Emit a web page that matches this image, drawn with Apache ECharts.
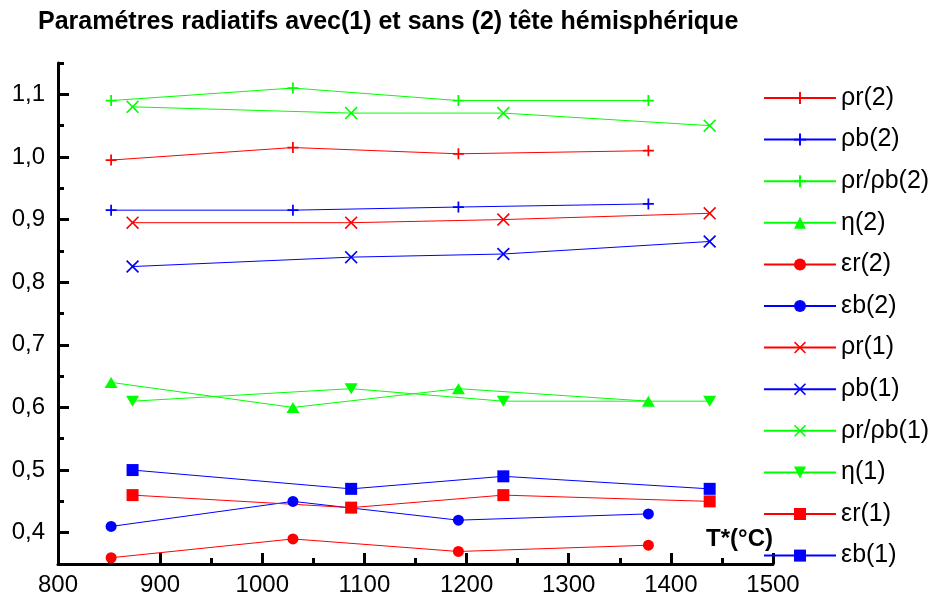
<!DOCTYPE html>
<html>
<head>
<meta charset="utf-8">
<script src="https://cdn.jsdelivr.net/npm/echarts@6/dist/echarts.min.js"></script>
<style>
html,body{margin:0;padding:0;background:#fff;}
#chart{width:939px;height:601px;}
</style>
</head>
<body>
<div id="chart"></div>
<script>
// ---- data ----
const titleText = 'Paramétres radiatifs avec(1) et sans (2) tête hémisphérique';
const xTitle = 'T*(°C)';
const temps2 = [852, 1030, 1192, 1378];
const temps1 = [873, 1087, 1236, 1438];
const rhoR2 = [0.995, 1.015, 1.005, 1.01];
const rhoB2 = [0.915, 0.915, 0.92, 0.925];
const ratio2 = [1.09, 1.11, 1.09, 1.09];
const eta2 = [0.64, 0.60, 0.63, 0.61];
const epsR2 = [0.36, 0.39, 0.37, 0.38];
const epsB2 = [0.41, 0.45, 0.42, 0.43];
const rhoR1 = [0.895, 0.895, 0.90, 0.91];
const rhoB1 = [0.825, 0.84, 0.845, 0.865];
const ratio1 = [1.08, 1.07, 1.07, 1.05];
const eta1 = [0.61, 0.63, 0.61, 0.61];
const epsR1 = [0.46, 0.44, 0.46, 0.45];
const epsB1 = [0.50, 0.47, 0.49, 0.47];
const yTickLabels = [0.4, 0.5, 0.6, 0.7, 0.8, 0.9, 1.0, 1.1];

// ---- styles ----
const RED = '#ff0000', BLUE = '#0000ff', GREEN = '#00ff00';
const PLUS = 'path://M42,0H58V42H100V58H58V100H42V58H0V42H42Z';
const CROSS = 'path://M0,9L9,0L50,41L91,0L100,9L59,50L100,91L91,100L50,59L9,100L0,91L41,50Z';
const TRI_DOWN = 'path://M0,0L100,0L50,87Z';
const FONT = 'Liberation Sans, Arial, sans-serif';

function pairs(xs, ys) { return xs.map((x, i) => [x, ys[i]]); }

const defs = [
  ['ρr(2)', temps2, rhoR2, RED, PLUS, 11],
  ['ρb(2)', temps2, rhoB2, BLUE, PLUS, 11],
  ['ρr/ρb(2)', temps2, ratio2, GREEN, PLUS, 11],
  ['η(2)', temps2, eta2, GREEN, 'triangle', [13, 11]],
  ['εr(2)', temps2, epsR2, RED, 'circle', 11],
  ['εb(2)', temps2, epsB2, BLUE, 'circle', 11],
  ['ρr(1)', temps1, rhoR1, RED, CROSS, 13],
  ['ρb(1)', temps1, rhoB1, BLUE, CROSS, 13],
  ['ρr/ρb(1)', temps1, ratio1, GREEN, CROSS, 13],
  ['η(1)', temps1, eta1, GREEN, TRI_DOWN, [13, 11]],
  ['εr(1)', temps1, epsR1, RED, 'rect', 12],
  ['εb(1)', temps1, epsB1, BLUE, 'rect', 12]
];

const series = defs.map(d => ({
  name: d[0],
  type: 'line',
  xAxisIndex: 0,
  yAxisIndex: 0,
  data: pairs(d[1], d[2]),
  symbol: d[4],
  symbolSize: d[5],
  showSymbol: true,
  color: d[3],
  lineStyle: { color: d[3], width: 1 },
  itemStyle: { color: d[3] },
  emphasis: { disabled: true },
  animation: false
}));

const chart = echarts.init(document.getElementById('chart'), null, { renderer: 'canvas' });
chart.setOption({
  backgroundColor: '#fff',
  animation: false,
  textStyle: { fontFamily: FONT },
  title: {
    text: titleText,
    left: 38,
    top: 10,
    padding: 0,
    textStyle: { fontFamily: FONT, fontSize: 25, fontWeight: 'bold', color: '#000' }
  },
  grid: { left: 58, right: 166, top: 63, bottom: 37, containLabel: false },
  xAxis: [{
    type: 'value',
    min: 800, max: 1500, interval: 100,
    axisLine: { show: true, onZero: false, lineStyle: { color: '#000', width: 3 } },
    axisTick: { show: true, inside: true, length: 11, lineStyle: { color: '#000', width: 3 } },
    minorTick: { show: true, splitNumber: 2, length: 6, lineStyle: { color: '#000', width: 3 } },
    splitLine: { show: false },
    axisLabel: { show: true, margin: 9, fontSize: 24, color: '#000', fontFamily: FONT, formatter: v => String(Math.round(v)) }
  }],
  yAxis: [{
    type: 'value',
    position: 'left',
    min: 0.35, max: 1.15, interval: 0.05,
    axisLine: { show: true, onZero: false, lineStyle: { color: '#000', width: 3 } },
    axisTick: { show: true, inside: true, length: 6, lineStyle: { color: '#000', width: 3 } },
    splitLine: { show: false },
    axisLabel: { show: false }
  }, {
    type: 'value',
    position: 'left',
    min: 0.35, max: 1.15,
    axisLine: { show: false },
    axisTick: { show: true, inside: true, length: 11, customValues: yTickLabels, lineStyle: { color: '#000', width: 3 } },
    splitLine: { show: false },
    axisLabel: {
      show: true, margin: 13, fontSize: 24, color: '#000', fontFamily: FONT,
      customValues: yTickLabels,
      formatter: v => v.toFixed(1).replace('.', ',')
    }
  }],
  legend: {
    orient: 'vertical',
    left: 763,
    top: 83,
    padding: 0,
    itemWidth: 72,
    itemHeight: 15,
    itemGap: 11.6,
    selectedMode: false,
    textStyle: { fontSize: 25, lineHeight: 30, color: '#000', fontFamily: FONT },
    data: defs.map(d => d[0])
  },
  graphic: [{
    type: 'text',
    right: 166,
    top: 527,
    style: { text: xTitle, font: 'bold 24px ' + FONT, fill: '#000' }
  }],
  series: series
});
</script>
</body>
</html>
